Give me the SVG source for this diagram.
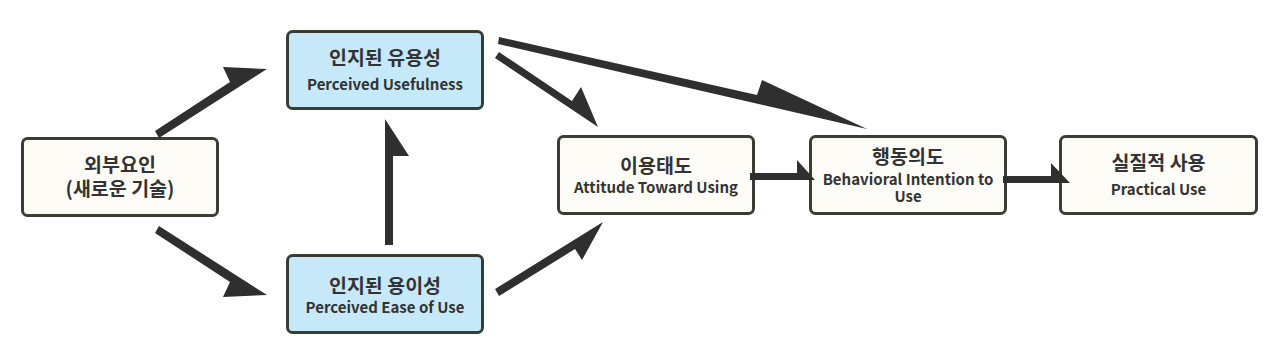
<svg xmlns="http://www.w3.org/2000/svg" width="1280" height="357" viewBox="0 0 1280 357">
<style>
.box{stroke:#3a3d34;stroke-width:3}
.cream{fill:#fdfcf6}
.blue{fill:#c6e9fa}
.ko{font-family:"Noto Sans CJK KR","Noto Sans",sans-serif;font-weight:700;font-size:19.5px;fill:#333333;text-anchor:middle}
.en{font-family:"Noto Sans CJK KR","Noto Sans",sans-serif;font-weight:600;font-size:15px;fill:#333333;text-anchor:middle}
.arr{fill:#2f2f2f}
</style>
<rect width="1280" height="357" fill="#ffffff"/>
<g id="ext">
<rect class="box cream" x="22.5" y="138.5" width="195" height="77" rx="5"/>
<text class="ko" x="120" y="171.5">외부요인</text>
<text class="ko" x="120" y="195.5">(새로운 기술)</text>
</g>
<g id="pu">
<rect class="box blue" x="287.5" y="31.5" width="195" height="77" rx="5"/>
<text class="ko" x="385" y="65">인지된 유용성</text>
<text class="en" x="385" y="90">Perceived Usefulness</text>
</g>
<g id="peou">
<rect class="box blue" x="287.5" y="255.5" width="195" height="77" rx="5"/>
<text class="ko" x="385" y="293">인지된 용이성</text>
<text class="en" x="385" y="313">Perceived Ease of Use</text>
</g>
<g id="atu">
<rect class="box cream" x="558.5" y="136.5" width="195" height="77" rx="5"/>
<text class="ko" x="656" y="173">이용태도</text>
<text class="en" x="656" y="193">Attitude Toward Using</text>
</g>
<g id="bi">
<rect class="box cream" x="810.5" y="136.5" width="195" height="77" rx="5"/>
<text class="ko" x="908" y="164">행동의도</text>
<text class="en" x="908" y="185">Behavioral Intention to</text>
<text class="en" x="908" y="202">Use</text>
</g>
<g id="prac">
<rect class="box cream" x="1060.5" y="136.5" width="196" height="77" rx="5"/>
<text class="ko" x="1158.5" y="170">실질적 사용</text>
<text class="en" x="1158.5" y="195">Practical Use</text>
</g>
<g id="connectors">
<polygon class="arr" points="159,138 267,69 223,67 230,82 155,131"/>
<polygon class="arr" points="159,226 267,295 223,297 230,282 155,233"/>
<polygon class="arr" points="385,245 385,119 409,156 393,156 393,245"/>
<polygon class="arr" points="495,58 598,127 581,87 572,101 499,52"/>
<polygon class="arr" points="495,289 603,222 582,260 575,249 499,296"/>
<polygon class="arr" points="498,44 867,129 762,80 757,95 499,37"/>
<polygon class="arr" points="750,180 815,180 797,160 797,173 750,173"/>
<polygon class="arr" points="1003,183 1070,183 1051,163 1051,176 1003,176"/>
</g>
</svg>
